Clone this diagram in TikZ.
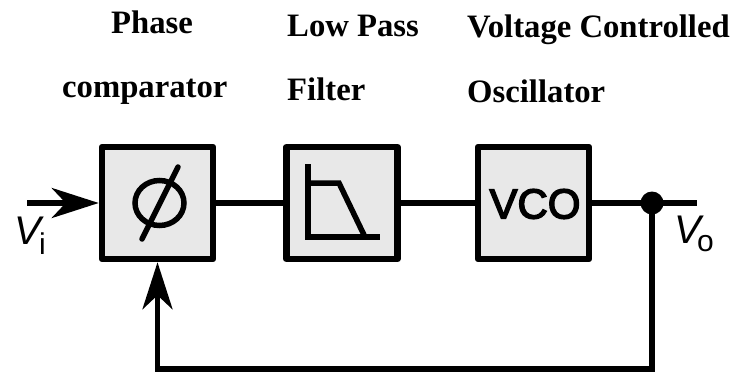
\documentclass[tikz,border=0pt]{standalone}
\usepackage{fontspec}
\setmainfont{Liberation Serif}
\setsansfont{Liberation Sans}
\newfontfamily\vcofont[FakeBold=3.5]{Liberation Sans}
\usetikzlibrary{arrows.meta}
\definecolor{boxfill}{HTML}{E8E8E8}
\tikzset{
  blockbox/.style={draw=black,fill=boxfill,line width=6.5pt,minimum width=111pt,minimum height=112pt,inner sep=0pt,line join=round},
  wire/.style={draw=black,line width=5.5pt},
  glyph/.style={draw=black,line width=5.5pt},
  head/.style={anchor=base west,inner sep=0pt,font=\fontsize{32.7}{34}\selectfont\bfseries},
  sym/.style={anchor=base west,inner sep=0pt,font=\sffamily},
  tip/.style={-{Stealth[length=47pt,width=30pt,inset=14pt]}}
}
\begin{document}
\begin{tikzpicture}[x=1pt,y=-1pt]
\useasboundingbox (0,0) rectangle (736,372);
\node[head] (t1) at (111,33) {Phase};
\node[head] (t2) at (62,97) {comparator};
\node[head] (t3) at (287,36.5) {Low Pass};
\node[head] (t4) at (287,100) {Filter};
\node[head] (t5) at (467,37) {Voltage Controlled};
\node[head] (t6) at (467,102) {Oscillator};
\node[blockbox] (phi) at (157.5,203) {};
\node[blockbox] (lpf) at (342,203) {};
\node[blockbox] (vco) at (533.5,203) {};
\node[inner sep=0pt,font=\vcofont\fontsize{42}{42}\selectfont] (vcotext) at (535,204) {VCO};
\draw[glyph] (159.5,203) ellipse [x radius=24.5pt,y radius=22.5pt];
\draw[glyph,line cap=round] (178,167) -- (142,239);
\draw[glyph,line cap=butt,line join=miter] (308,164) -- (308,237) -- (380,237);
\draw[glyph,line join=miter] (308,183) -- (339,183) -- (365,237);
\node[circle,fill=black,minimum size=23pt,inner sep=0pt] (dot) at (652,203) {};
\coordinate (vin) at (27,203);
\coordinate (vout) at (697,203);
\coordinate (fb) at (400,369);
\draw[wire,tip] (vin) -- (phi.west);
\draw[wire] (phi.east) -- (lpf.west);
\draw[wire] (lpf.east) -- (vco.west);
\draw[wire] (vco.east) -- (dot.center) -- (vout);
\draw[wire,tip] (dot.center) |- (fb) -| (phi.south);
\node[sym,font=\sffamily\itshape\fontsize{40}{40}\selectfont] (vi) at (14,244) {V};
\node[sym,font=\sffamily\fontsize{30}{30}\selectfont] (visub) at (39,254) {i};
\node[sym,font=\sffamily\fontsize{30}{30}\selectfont] (vosub) at (697,251) {o};
\node[sym,font=\sffamily\itshape\fontsize{40}{40}\selectfont] (vo) at (674,243) {V};
\end{tikzpicture}
\end{document}
